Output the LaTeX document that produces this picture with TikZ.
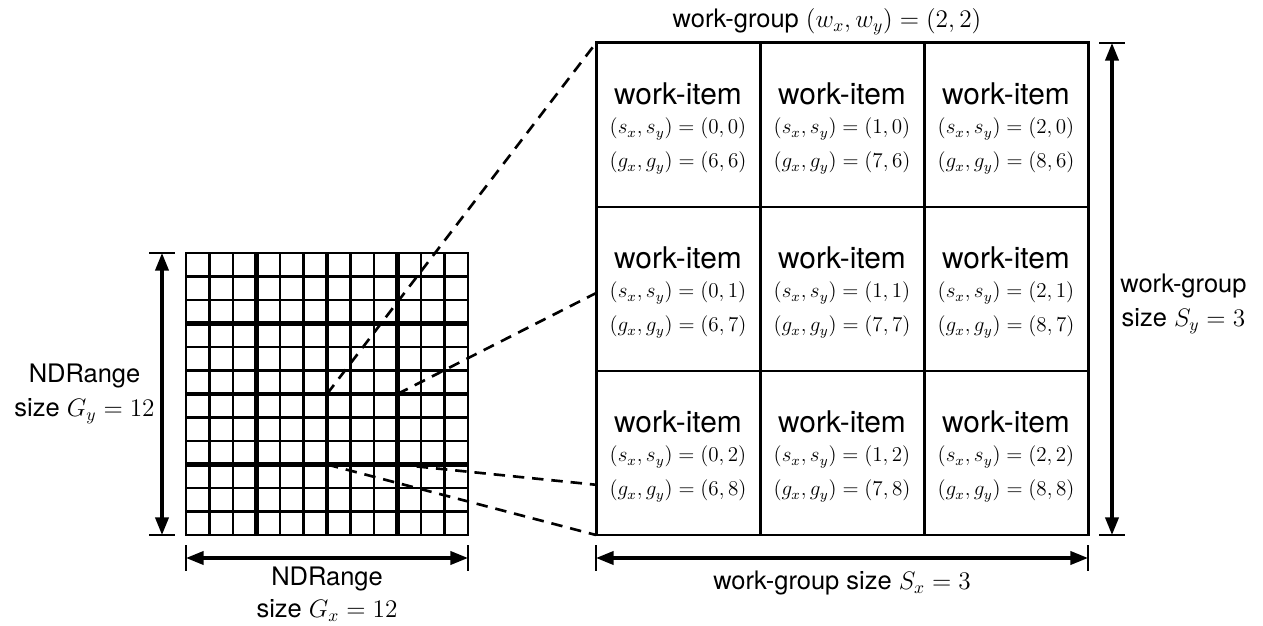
\documentclass[tikz,border=0pt]{standalone}
\usepackage{fontspec}
\setmainfont{TeX Gyre Heros}
\usetikzlibrary{arrows.meta,positioning,calc}

\newcommand{\lblfont}{\fontsize{14.5}{19}\selectfont}
\newcommand{\itemfont}{\fontsize{17}{20}\selectfont}
\newcommand{\idxfont}{\fontsize{11.7}{14}\selectfont}

\begin{document}
\begin{tikzpicture}[
  every node/.style={inner sep=0pt},
  gridline/.style={line width=1.4pt},
  groupline/.style={line width=2.8pt},
  cellline/.style={line width=1.7pt},
  link/.style={line width=1.5pt, dash pattern=on 6.5pt off 4.5pt},
  dim/.style={{Triangle[length=10pt,width=7.5pt]}-{Triangle[length=10pt,width=7.5pt]}, line width=1.8pt},
  tick/.style={line width=1.5pt},
  lbl/.style={font=\lblfont, align=center},
  item/.style={font=\itemfont},
  idx/.style={font=\idxfont}
]
\def\sc{0.47}  % one work-item in the NDRange
\def\bc{3.28}  % one work-item in the zoomed work-group
\useasboundingbox (-3.72,-1.80) rectangle (21.54,10.70);

% NDRange, 12 x 12
\foreach \k in {1,...,11} {
  \draw[gridline] (\k*\sc,0) -- (\k*\sc,12*\sc);
  \draw[gridline] (0,\k*\sc) -- (12*\sc,\k*\sc);
}
\foreach \k in {3,6,9} {
  \draw[groupline] (\k*\sc,0) -- (\k*\sc,12*\sc);
  \draw[groupline] (0,\k*\sc) -- (12*\sc,\k*\sc);
}
\draw[gridline] (0,0) rectangle (12*\sc,12*\sc);

\coordinate (nd-sw) at (0,0);
\coordinate (nd-se) at (12*\sc,0);
\coordinate (nd-nw) at (0,12*\sc);

% work-group (2,2) inside the NDRange
\coordinate (wg-nw) at (6*\sc,6*\sc);
\coordinate (wg-ne) at (9*\sc,6*\sc);
\coordinate (wg-sw) at (6*\sc,3*\sc);
\coordinate (wg-se) at (9*\sc,3*\sc);

% zoomed work-group
\coordinate (bg-sw) at (8.2,0);
\coordinate (bg-se) at (8.2+3*\bc,0);
\coordinate (bg-nw) at (8.2,3*\bc);
\coordinate (bg-ne) at (8.2+3*\bc,3*\bc);

\draw[link] (wg-nw) -- (bg-nw);
\draw[link] (wg-ne) -- (bg-ne);
\draw[link] (wg-sw) -- (bg-sw);
\draw[link] (wg-se) -- (bg-se);

\draw[cellline, fill=white] (bg-sw) rectangle (bg-ne);
\foreach \k in {1,2} {
  \draw[cellline] (8.2+\k*\bc,0) -- (8.2+\k*\bc,3*\bc);
  \draw[cellline] (8.2,\k*\bc) -- (8.2+3*\bc,\k*\bc);
}

\foreach \i in {0,1,2} {
  \foreach \j in {0,1,2} {
    \pgfmathtruncatemacro\gx{6+\i}
    \pgfmathtruncatemacro\gy{6+\j}
    \coordinate (cell-\i-\j) at ({8.2+\bc*(\i+0.5)},{3*\bc-\bc*(\j+0.5)});
    \node[item] (wi-\i-\j) at ($(cell-\i-\j)+(0,0.63)$) {work-item};
    \node[idx] (s-\i-\j) at ($(cell-\i-\j)+(0,-0.08)$) {$(s_x,s_y)=(\i,\j)$};
    \node[idx] (g-\i-\j) at ($(cell-\i-\j)+(0,-0.76)$) {$(g_x,g_y)=(\gx,\gy)$};
  }
}

% dimensions
\coordinate (ndy-b) at (-0.48,0);
\coordinate (ndy-t) at (-0.48,12*\sc);
\coordinate (ndx-l) at (0,-0.46);
\coordinate (ndx-r) at (12*\sc,-0.46);
\coordinate (wgx-l) at (8.2,-0.46);
\coordinate (wgx-r) at (8.2+3*\bc,-0.46);
\coordinate (wgy-b) at (8.2+3*\bc+0.48,0);
\coordinate (wgy-t) at (8.2+3*\bc+0.48,3*\bc);

\draw[dim] (ndy-b) -- (ndy-t);
\draw[dim] (ndx-l) -- (ndx-r);
\draw[dim] (wgx-l) -- (wgx-r);
\draw[dim] (wgy-b) -- (wgy-t);
\foreach \p in {ndy-b,ndy-t,wgy-b,wgy-t}
  \draw[tick] ($(\p)+(-0.26,0)$) -- ($(\p)+(0.26,0)$);
\foreach \p in {ndx-l,ndx-r,wgx-l,wgx-r}
  \draw[tick] ($(\p)+(0,-0.26)$) -- ($(\p)+(0,0.26)$);

% labels
\node[lbl, anchor=east] (ndy-lbl) at (-0.62,2.82) {NDRange\\size $G_y=12$};
\node[lbl, anchor=north, font=\fontsize{14.5}{18}\selectfont] (ndx-lbl) at (2.82,-0.64) {NDRange\\size $G_x=12$};
\node[lbl, anchor=north] (wgx-lbl) at (13.12,-0.72) {work-group size $S_x=3$};
\node[lbl, anchor=north west] (wgy-lbl) at (18.68,5.22) {work-group\\size $S_y=3$};
\node[lbl, anchor=base] (wg-lbl) at (12.82,10.14) {work-group $(w_x,w_y)=(2,2)$};
\end{tikzpicture}
\end{document}
